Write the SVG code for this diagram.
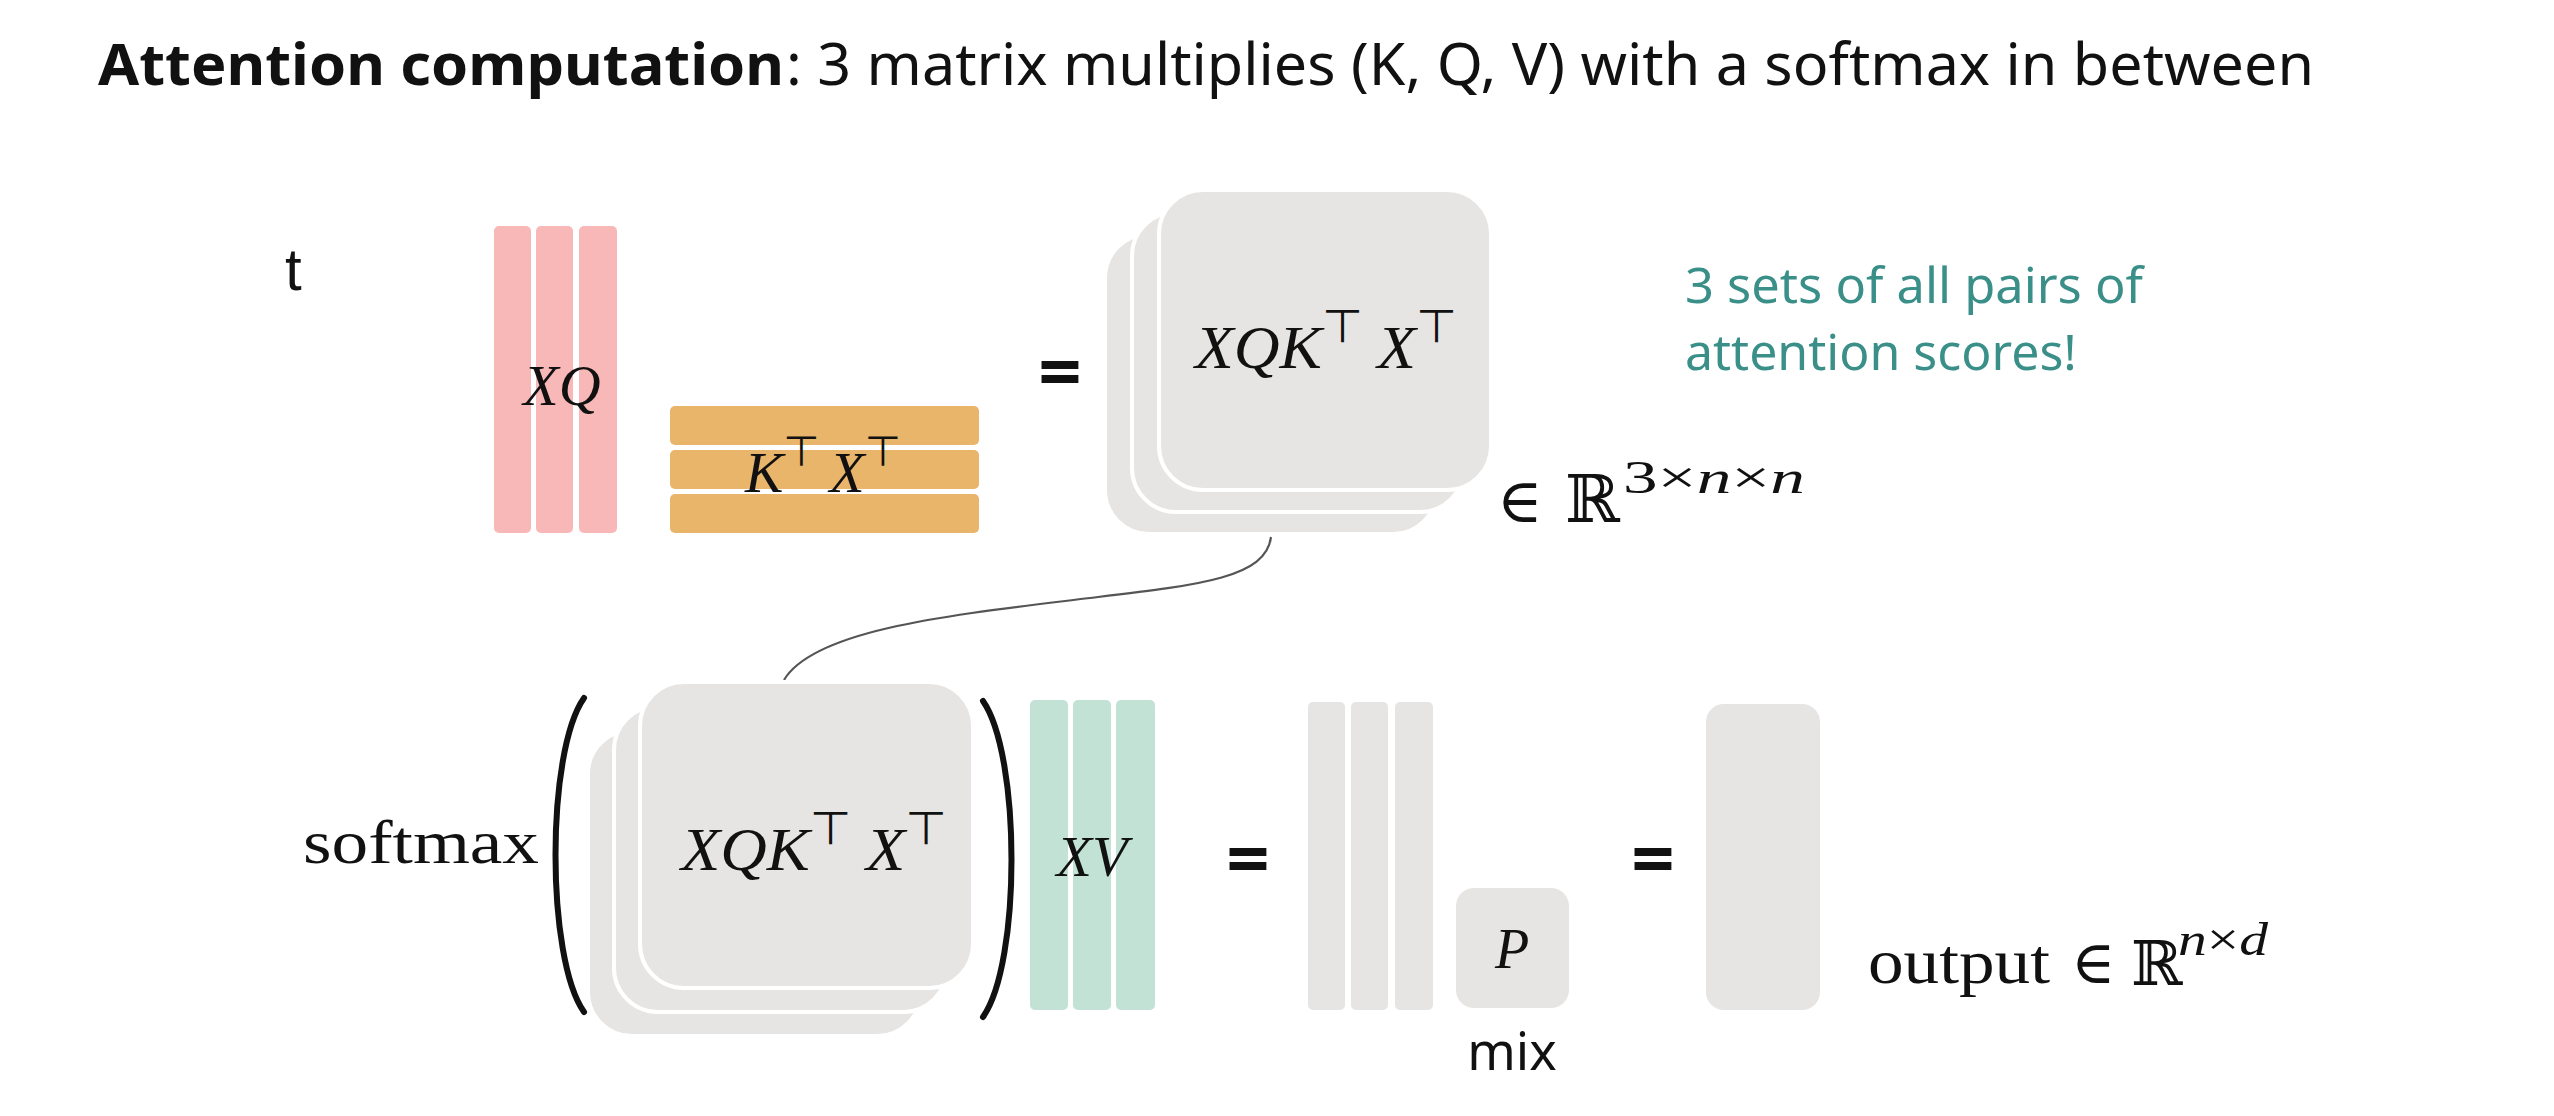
<svg xmlns="http://www.w3.org/2000/svg" width="2554" height="1116" viewBox="0 0 2554 1116">
<style>
.sans{font-family:"Noto Sans","Open Sans",sans-serif;}
.math{font-family:"Liberation Serif","DejaVu Serif",serif;font-style:italic;fill:#111;}
.rm{font-family:"Liberation Serif","DejaVu Serif",serif;fill:#111;}
.bb{font-family:"DejaVu Serif","Liberation Serif",serif;fill:#111;}
.up{font-style:normal;font-family:"DejaVu Sans",sans-serif;}
.pink{fill:#f7b8b7;}
.orange{fill:#e8b56a;}
.teal{fill:#c2e2d5;}
.gray{fill:#e6e5e3;}
.layer{fill:#e6e5e3;stroke:#ffffff;stroke-width:4;}
.eq{font-family:"Noto Sans",sans-serif;font-weight:bold;fill:#111;}
.conn{fill:none;stroke:#555;stroke-width:2.2;}
.paren{fill:none;stroke:#111;stroke-width:6;stroke-linecap:round;}
.note{font-family:"Noto Sans","Open Sans",sans-serif;fill:#3a8f89;}
</style>
<rect width="2554" height="1116" fill="#ffffff"/>

<g id="title">
<text class="sans" x="98" y="85" font-size="58" font-weight="bold" fill="#111" textLength="686" lengthAdjust="spacingAndGlyphs">Attention computation</text>
<text class="sans" x="786" y="85" font-size="58" fill="#111" textLength="1528" lengthAdjust="spacingAndGlyphs">: 3 matrix multiplies (K, Q, V) with a softmax in between</text>
</g>

<g id="t-label"><text x="285" y="290" font-family="Liberation Sans,Arial,sans-serif" font-size="60" fill="#111">t</text></g>

<g id="XQ">
<rect class="pink" x="494" y="226" width="37" height="307" rx="5"/>
<rect class="pink" x="536" y="226" width="37" height="307" rx="5"/>
<rect class="pink" x="579" y="226" width="38" height="307" rx="5"/>
<text class="math" x="562" y="405" font-size="58" text-anchor="middle">XQ</text>
</g>

<g id="KX">
<rect class="orange" x="670" y="406" width="309" height="39" rx="5"/>
<rect class="orange" x="670" y="450" width="309" height="39" rx="5"/>
<rect class="orange" x="670" y="494" width="309" height="39" rx="5"/>
<text class="math" x="745" y="492" font-size="58" textLength="156" lengthAdjust="spacingAndGlyphs">K<tspan class="up" font-size="42" dy="-26">⊤</tspan><tspan dx="10" dy="26">X</tspan><tspan class="up" font-size="42" dy="-26">⊤</tspan></text>
</g>

<g id="eq1"><text class="eq" x="1060" y="398" font-size="76" text-anchor="middle">=</text></g>

<g id="scores-top">
<rect class="layer" x="1105" y="234" width="332" height="300" rx="44"/>
<rect class="layer" x="1132" y="212" width="332" height="300" rx="44"/>
<rect class="layer" x="1159" y="190" width="332" height="300" rx="44"/>
<text class="math" x="1195" y="368" font-size="62" textLength="262" lengthAdjust="spacingAndGlyphs">XQK<tspan class="up" font-size="46" dy="-26">⊤</tspan><tspan dx="14" dy="26">X</tspan><tspan class="up" font-size="46" dy="-26">⊤</tspan></text>
</g>

<g id="dim-top">
<text class="bb" x="1497" y="522" font-size="62">∈</text>
<text class="bb" x="1565" y="522" font-size="66">ℝ</text>
<text class="rm" x="1623" y="493" font-size="46" textLength="182" lengthAdjust="spacingAndGlyphs">3×<tspan class="math">n</tspan>×<tspan class="math">n</tspan></text>
</g>

<g id="note">
<text class="note" x="1685" y="303" font-size="50" textLength="458" lengthAdjust="spacingAndGlyphs">3 sets of all pairs of</text>
<text class="note" x="1685" y="370" font-size="50">attention scores!</text>
</g>

<g id="connectors">
<path class="conn" d="M 1271 537 C 1266 578 1200 585 1090 598 C 960 614 815 628 784 680"/>
</g>

<g id="softmax-label"><text class="rm" x="303" y="863" font-size="62" textLength="236" lengthAdjust="spacingAndGlyphs">softmax</text></g>

<g id="parens">
<path class="paren" d="M 584 698 C 546 752 546 958 584 1012"/>
<path class="paren" d="M 983 701 C 1021 756 1021 963 983 1017"/>
</g>

<g id="scores-bottom">
<rect class="layer" x="588" y="730" width="333" height="306" rx="44"/>
<rect class="layer" x="614" y="706" width="333" height="306" rx="44"/>
<rect class="layer" x="640" y="682" width="333" height="306" rx="44"/>
<text class="math" x="681" y="870" font-size="62" textLength="266" lengthAdjust="spacingAndGlyphs">XQK<tspan class="up" font-size="46" dy="-26">⊤</tspan><tspan dx="14" dy="26">X</tspan><tspan class="up" font-size="46" dy="-26">⊤</tspan></text>
</g>

<g id="XV">
<rect class="teal" x="1030" y="700" width="38" height="310" rx="5"/>
<rect class="teal" x="1073" y="700" width="38" height="310" rx="5"/>
<rect class="teal" x="1116" y="700" width="39" height="310" rx="5"/>
<text class="math" x="1092" y="876" font-size="58" text-anchor="middle" fill="#1d3a30">XV</text>
</g>

<g id="eq2"><text class="eq" x="1248" y="885" font-size="76" text-anchor="middle">=</text></g>

<g id="heads">
<rect class="gray" x="1308" y="702" width="37" height="308" rx="5"/>
<rect class="gray" x="1351" y="702" width="37" height="308" rx="5"/>
<rect class="gray" x="1395" y="702" width="38" height="308" rx="5"/>
</g>

<g id="P">
<rect class="gray" x="1456" y="888" width="113" height="120" rx="18"/>
<text class="math" x="1512" y="968" font-size="56" text-anchor="middle">P</text>
</g>

<g id="mix-label"><text class="sans" x="1512" y="1070" font-size="52" text-anchor="middle" fill="#111">mix</text></g>

<g id="eq3"><text class="eq" x="1653" y="885" font-size="76" text-anchor="middle">=</text></g>

<g id="output">
<rect class="gray" x="1706" y="704" width="114" height="306" rx="18"/>
</g>

<g id="output-label">
<text class="rm" x="1868" y="983" font-size="64" textLength="182" lengthAdjust="spacingAndGlyphs">output</text>
<text class="bb" x="2071" y="983" font-size="60">∈</text>
<text class="bb" x="2131" y="985" font-size="62">ℝ</text>
<text class="rm" x="2178" y="955" font-size="46" textLength="90" lengthAdjust="spacingAndGlyphs"><tspan class="math">n</tspan>×<tspan class="math">d</tspan></text>
</g>
</svg>
